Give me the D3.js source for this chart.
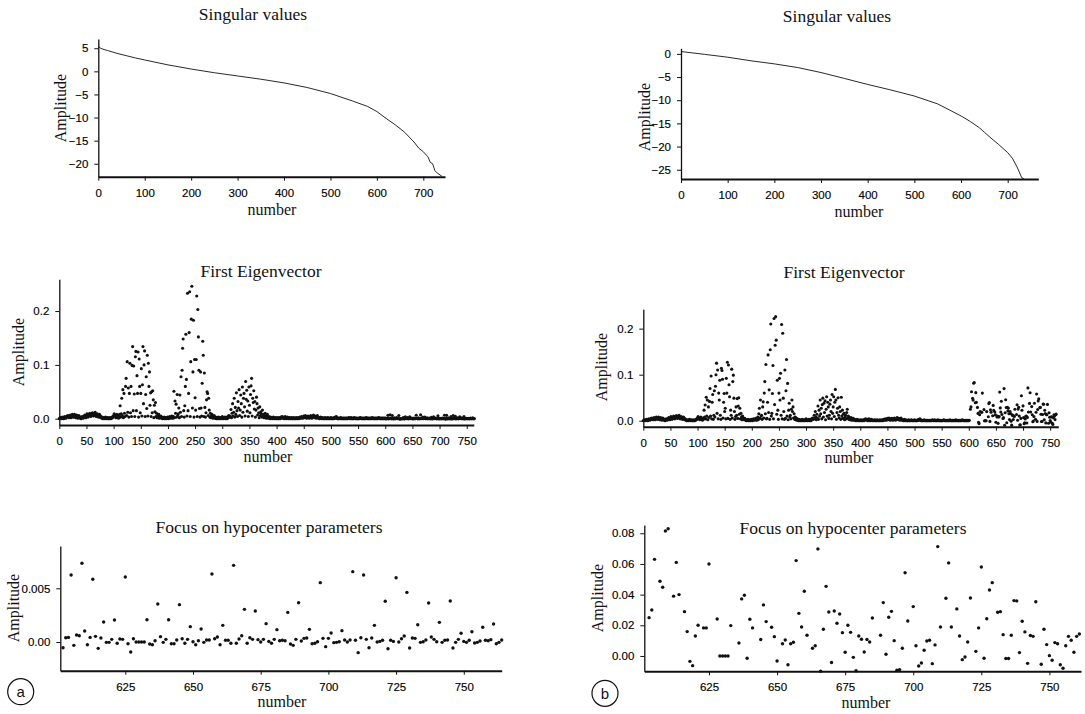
<!DOCTYPE html>
<html>
<head>
<meta charset="utf-8">
<script src="https://cdn.jsdelivr.net/npm/d3@7"></script>
<style>
  body { margin: 0; background: #fff; }
  .tick text { font-family: "Liberation Sans", Arial, sans-serif; font-size: 11.5px; fill: #000; stroke: #000; stroke-width: 0.15px; }
  .ttl, .lbl { font-family: "Liberation Serif", "Times New Roman", serif; fill: #111; }
</style>
</head>
<body>
<svg id="chart" width="1085" height="714"></svg>
<script>
// ---- singular values ----
const singA_n = [0, 5, 10, 20, 40, 60, 80, 100, 150, 200, 250, 300, 350, 400, 450, 500, 550, 580, 600, 620, 640, 660, 680, 690, 700, 710, 715, 720, 725, 730, 740];
const singA_v = [5.4, 5.0, 4.8, 4.5, 3.9, 3.4, 2.9, 2.46, 1.4, 0.5, -0.3, -1.0, -1.7, -2.5, -3.5, -4.8, -6.5, -7.6, -8.7, -10.2, -11.6, -13.2, -15.3, -16.6, -17.4, -18.5, -19.7, -20.0, -21.5, -22.0, -22.7];
const singB_n = [0, 50, 100, 150, 200, 250, 300, 350, 400, 450, 500, 550, 600, 620, 640, 650, 660, 680, 700, 710, 720, 725, 730, 735];
const singB_v = [0.5, -0.1, -0.72, -1.5, -2.16, -2.95, -4.03, -5.3, -6.6, -7.8, -9.1, -10.8, -13.4, -14.6, -16.0, -16.9, -17.8, -19.5, -21.3, -22.5, -24.4, -25.5, -26.7, -27.0];

// ---- first eigenvector, shared low background parts ----
// 0-109
const base0 = [
  0.000, 0.001, 0.002, 0.001, 0.000, 0.002, 0.003, 0.001, 0.000, 0.002, 0.004, 0.002, 0.001, 0.003, 0.005, 0.003, 0.006, 0.004, 0.002, 0.005,
  0.007, 0.004, 0.002, 0.006, 0.008, 0.005, 0.003, 0.006, 0.008, 0.004, 0.002, 0.005, 0.007, 0.004, 0.001, 0.003, 0.006, 0.004, 0.002, 0.001,
  0.000, 0.002, 0.004, 0.003, 0.001, 0.003, 0.005, 0.007, 0.004, 0.002, 0.006, 0.009, 0.006, 0.003, 0.005, 0.008, 0.010, 0.007, 0.004, 0.006,
  0.009, 0.011, 0.008, 0.005, 0.007, 0.010, 0.012, 0.008, 0.004, 0.006, 0.009, 0.007, 0.003, 0.005, 0.008, 0.006, 0.002, 0.004, 0.003, 0.001,
  0.000, 0.002, 0.001, 0.000, 0.001, 0.003, 0.002, 0.000, 0.001, 0.002, 0.000, 0.001, 0.000, 0.002, 0.001, 0.000, 0.001, 0.003, 0.002, 0.004,
  0.006, 0.009, 0.007, 0.004, 0.002, 0.005, 0.008, 0.006, 0.003, 0.001
];
// 186-209
const gap1 = [0.002, 0.005, 0.003, 0.001, 0.000, 0.002, 0.001, 0.003, 0.000, 0.001, 0.002, 0.000, 0.001, 0.003, 0.001, 0.000, 0.002, 0.004, 0.002, 0.001, 0.003, 0.005, 0.002, 0.001];
// 290-314
const gap2 = [0.002, 0.001, 0.000, 0.003, 0.001, 0.000, 0.002, 0.001, 0.000, 0.002, 0.004, 0.001, 0.000, 0.002, 0.001, 0.003, 0.000, 0.001, 0.002, 0.000, 0.004, 0.002, 0.006, 0.003, 0.005];
// 390-601
const tail = [
  0.001, 0.002, 0.000, 0.001, 0.003, 0.001, 0.000, 0.002, 0.001, 0.000, 0.001, 0.002, 0.000, 0.001, 0.000, 0.002, 0.001, 0.000, 0.003, 0.002,
  0.004, 0.002, 0.001, 0.003, 0.000, 0.001, 0.004, 0.002, 0.000, 0.001, 0.003, 0.001, 0.000, 0.002, 0.001, 0.000, 0.001, 0.002, 0.000, 0.001,
  0.000, 0.002, 0.001, 0.000, 0.001, 0.000, 0.002, 0.001, 0.000, 0.001, 0.002, 0.000, 0.001, 0.003, 0.001, 0.002, 0.004, 0.002, 0.001, 0.003,
  0.005, 0.002, 0.004, 0.006, 0.003, 0.001, 0.004, 0.002, 0.005, 0.003, 0.001, 0.002, 0.004, 0.006, 0.003, 0.001, 0.003, 0.005, 0.007, 0.004,
  0.002, 0.005, 0.003, 0.001, 0.004, 0.006, 0.003, 0.001, 0.002, 0.000, 0.001, 0.003, 0.001, 0.000, 0.002, 0.001, 0.000, 0.001, 0.000, 0.002,
  0.001, 0.000, 0.001, 0.000, 0.002, 0.001, 0.000, 0.001, 0.000, 0.001, 0.002, 0.000, 0.001, 0.000, 0.001, 0.000, 0.002, 0.001, 0.003, 0.001,
  0.004, 0.002, 0.000, 0.001, 0.000, 0.001, 0.000, 0.001, 0.002, 0.000, 0.001, 0.000, 0.001, 0.000, 0.001, 0.000, 0.001, 0.000, 0.001, 0.000,
  0.001, 0.000, 0.001, 0.002, 0.001, 0.000, 0.001, 0.002, 0.000, 0.001, 0.000, 0.001, 0.000, 0.002, 0.001, 0.000, 0.001, 0.000, 0.001, 0.000,
  0.000, 0.001, 0.000, 0.001, 0.002, 0.001, 0.000, 0.001, 0.000, 0.001, 0.000, 0.001, 0.000, 0.001, 0.000, 0.002, 0.001, 0.000, 0.001, 0.000,
  0.001, 0.000, 0.001, 0.000, 0.001, 0.000, 0.002, 0.001, 0.000, 0.001, 0.000, 0.001, 0.000, 0.001, 0.000, 0.001, 0.000, 0.001, 0.002, 0.001,
  0.000, 0.001, 0.000, 0.001, 0.000, 0.001, 0.000, 0.001, 0.000, 0.001, 0.000, 0.001
];

// ---- first eigenvector, peaks (a) ----
// 110-185
const peak1A = [
  0.004, 0.008, 0.024, 0.003, 0.009, 0.038, 0.006, 0.054, 0.002, 0.047,
  0.010, 0.004, 0.060, 0.075, 0.006, 0.106, 0.012, 0.057, 0.003, 0.047,
  0.103, 0.011, 0.060, 0.004, 0.099, 0.134, 0.015, 0.098, 0.046, 0.004,
  0.115, 0.125, 0.015, 0.080, 0.047, 0.124, 0.003, 0.111, 0.060, 0.011,
  0.047, 0.093, 0.005, 0.063, 0.134, 0.028, 0.100, 0.126, 0.004, 0.045,
  0.078, 0.019, 0.118, 0.005, 0.103, 0.060, 0.087, 0.025, 0.048, 0.004,
  0.050, 0.011, 0.052, 0.035, 0.002, 0.025, 0.013, 0.030, 0.004, 0.010,
  0.002, 0.006, 0.003, 0.008, 0.001, 0.004
];
// 210-289
const peak2A = [
  0.004, 0.051, 0.002, 0.033, 0.010, 0.027, 0.003, 0.045, 0.006, 0.009,
  0.020, 0.002, 0.044, 0.012, 0.078, 0.004, 0.090, 0.131, 0.148, 0.015,
  0.003, 0.024, 0.060, 0.157, 0.073, 0.005, 0.233, 0.015, 0.047, 0.160,
  0.236, 0.004, 0.106, 0.185, 0.246, 0.020, 0.087, 0.183, 0.003, 0.110,
  0.039, 0.016, 0.110, 0.228, 0.004, 0.203, 0.152, 0.090, 0.019, 0.003,
  0.087, 0.020, 0.005, 0.066, 0.144, 0.118, 0.004, 0.085, 0.021, 0.003,
  0.011, 0.035, 0.050, 0.047, 0.006, 0.038, 0.016, 0.003, 0.010, 0.002,
  0.005, 0.008, 0.003, 0.001, 0.004, 0.006, 0.002, 0.001, 0.003, 0.000
];
// 315-389
const peak3A = [
  0.004, 0.017, 0.002, 0.010, 0.028, 0.005, 0.012, 0.038, 0.003, 0.021,
  0.008, 0.048, 0.015, 0.004, 0.032, 0.020, 0.054, 0.006, 0.016, 0.044,
  0.028, 0.003, 0.059, 0.012, 0.038, 0.047, 0.022, 0.005, 0.069, 0.036,
  0.053, 0.014, 0.033, 0.004, 0.059, 0.025, 0.011, 0.045, 0.061, 0.075,
  0.005, 0.038, 0.030, 0.052, 0.018, 0.032, 0.003, 0.016, 0.040, 0.028,
  0.007, 0.020, 0.011, 0.002, 0.022, 0.006, 0.013, 0.009, 0.003, 0.016,
  0.005, 0.008, 0.002, 0.006, 0.010, 0.004, 0.001, 0.005, 0.008, 0.003,
  0.001, 0.004, 0.002, 0.000, 0.003
];

// ---- first eigenvector, peaks (b) ----
const peak1B = [
  0.006, 0.003, 0.023, 0.008, 0.034, 0.004, 0.051, 0.010, 0.045, 0.002,
  0.030, 0.007, 0.042, 0.070, 0.010, 0.097, 0.004, 0.040, 0.057, 0.003,
  0.012, 0.065, 0.008, 0.075, 0.100, 0.125, 0.016, 0.110, 0.004, 0.060,
  0.045, 0.088, 0.012, 0.003, 0.114, 0.109, 0.090, 0.006, 0.040, 0.059,
  0.020, 0.027, 0.004, 0.092, 0.060, 0.127, 0.005, 0.121, 0.078, 0.052,
  0.003, 0.023, 0.012, 0.112, 0.006, 0.085, 0.099, 0.049, 0.020, 0.003,
  0.009, 0.030, 0.012, 0.048, 0.005, 0.032, 0.050, 0.014, 0.027, 0.004,
  0.016, 0.008, 0.002, 0.010, 0.003, 0.006
];
const peak2B = [
  0.004, 0.008, 0.002, 0.015, 0.027, 0.005, 0.045, 0.010, 0.012, 0.003,
  0.030, 0.041, 0.006, 0.060, 0.085, 0.015, 0.122, 0.004, 0.005, 0.040,
  0.143, 0.018, 0.067, 0.003, 0.154, 0.210, 0.010, 0.016, 0.059, 0.120,
  0.004, 0.222, 0.035, 0.164, 0.226, 0.175, 0.014, 0.088, 0.023, 0.003,
  0.060, 0.092, 0.045, 0.103, 0.012, 0.209, 0.004, 0.190, 0.049, 0.020,
  0.003, 0.110, 0.005, 0.065, 0.133, 0.010, 0.081, 0.002, 0.023, 0.038,
  0.008, 0.012, 0.004, 0.025, 0.045, 0.020, 0.030, 0.006, 0.015, 0.003,
  0.008, 0.002, 0.006, 0.001, 0.004, 0.002, 0.000, 0.003, 0.001, 0.000
];
const peak3B = [
  0.012, 0.004, 0.020, 0.008, 0.002, 0.014, 0.006, 0.032, 0.003, 0.023,
  0.010, 0.045, 0.015, 0.027, 0.004, 0.035, 0.049, 0.008, 0.038, 0.018,
  0.043, 0.002, 0.025, 0.052, 0.010, 0.040, 0.030, 0.005, 0.012, 0.036,
  0.045, 0.020, 0.004, 0.057, 0.016, 0.030, 0.052, 0.009, 0.040, 0.068,
  0.045, 0.003, 0.018, 0.027, 0.050, 0.012, 0.006, 0.030, 0.020, 0.003,
  0.051, 0.010, 0.023, 0.005, 0.014, 0.016, 0.002, 0.008, 0.012, 0.004,
  0.018, 0.025, 0.006, 0.010, 0.003, 0.007, 0.002, 0.005, 0.007, 0.001,
  0.004, 0.002, 0.005, 0.001, 0.003
];

// ---- hypocenter parameters (a): numbers 602-764 ----
const focusA = [
  -0.00053, 0.00040, 0.00043, 0.00624, -0.00031, 0.00065, 0.00059, 0.00733, 0.00102, -0.00025,
  0.00043, 0.00584, 0.00053, -0.00059, 0.00037, 0.00186, -0.00003, -0.00003, 0.00025, 0.00205,
  -0.00012, 0.00028, 0.00025, 0.00605, -0.00016, -0.00093, 0.00031, 0.00000, 0.00000, 0.00000,
  0.00000, 0.00208, -0.00019, -0.00025, 0.00012, 0.00354, 0.00050, -0.00003, 0.00025, 0.00208,
  -0.00016, -0.00016, 0.00019, 0.00348, 0.00031, -0.00012, 0.00025, 0.00143, 0.00003, -0.00025,
  0.00012, 0.00121, -0.00003, 0.00019, 0.00019, 0.00633, 0.00031, 0.00047, -0.00025, 0.00155,
  0.00016, 0.00016, -0.00012, 0.00714, -0.00012, 0.00028, 0.00059, 0.00304, -0.00012, 0.00040,
  0.00025, 0.00289, 0.00022, 0.00000, 0.00025, 0.00171, 0.00006, -0.00012, 0.00025, 0.00115,
  0.00012, 0.00016, 0.00012, 0.00276, -0.00019, -0.00031, 0.00025, 0.00366, 0.00009, 0.00034,
  0.00037, 0.00118, -0.00016, -0.00012, 0.00003, 0.00553, 0.00034, -0.00043, 0.00034, 0.00084,
  -0.00006, -0.00003, 0.00003, 0.00106, 0.00019, 0.00000, 0.00019, 0.00655, 0.00016, -0.00099,
  0.00040, 0.00624, 0.00025, -0.00053, 0.00037, 0.00155, 0.00000, 0.00006, 0.00016, 0.00379,
  -0.00062, 0.00016, 0.00006, 0.00599, 0.00000, 0.00031, 0.00056, 0.00462, -0.00056, 0.00037,
  0.00034, 0.00161, -0.00003, 0.00003, 0.00019, 0.00363, 0.00047, 0.00025, 0.00003, 0.00183,
  -0.00003, 0.00016, 0.00019, 0.00382, -0.00056, -0.00003, 0.00025, 0.00081, 0.00006, -0.00003,
  0.00016, 0.00096, -0.00009, -0.00003, 0.00009, 0.00137, 0.00016, 0.00012, 0.00022, 0.00168,
  -0.00016, -0.00003, 0.00019
];
const focusAStart = 602;

// ---- hypocenter parameters (b) ----
const focusBIdx = [603, 604, 605, 607, 608, 609, 610, 612, 613, 614, 616, 617, 618, 619, 620, 621, 623, 624, 625, 628, 629, 630, 631, 632, 633,
  636, 637, 638, 639, 640, 641, 644, 645, 646, 648, 649, 650, 652, 653, 654, 655, 656, 657, 658, 659, 660, 661, 663, 664, 665, 666, 667, 668, 669,
  670, 671, 672, 673, 674, 675, 676, 677, 678, 679, 680, 681, 682, 683, 684, 685, 688, 689, 690, 691, 692, 693, 694, 695, 696, 697, 698, 700, 701,
  702, 703, 704, 705, 706, 707, 708, 709, 710, 712, 713, 714, 716, 717, 718, 719, 720, 721, 723, 724, 725, 726, 727, 728, 729, 731, 732, 733, 734,
  735, 736, 737, 738, 739, 740, 741, 742, 743, 744, 745, 747, 748, 749, 750, 751, 752, 753, 754, 755, 756, 757, 758, 759, 760, 761];
const focusBVal = [0.025, 0.030, 0.063, 0.0487, 0.0448, 0.0815, 0.083, 0.039, 0.061, 0.040, 0.0289, 0.0159, -0.0035, -0.0063, 0.0130, 0.020, 0.0183, 0.0183, 0.060, 0.0241, 0, 0, 0, 0, 0.0198,
  0.0085, 0.0372, 0.0396, -0.0015, 0.0239, 0.0183, 0.0107, 0.0333, 0.0224, 0.0187, 0.0126, -0.0033, 0.0080, 0.0104, -0.0057, 0.0080, 0.0089, 0.0622, 0.0278, 0.0189, 0.0422, 0.0135, 0.0050, 0.0067, 0.0698, -0.0100, 0.0174, 0.0454, 0.0287,
  -0.0043, 0.0293, 0.0213, 0.0274, 0.0152, 0.0024, 0.0200, 0.0154, -0.0009, -0.0096, 0.0130, 0.0109, 0.0026, 0.0107, 0.0091, 0.0248, 0.0135, 0.0348, 0.0011, 0.0252, 0.0291, 0.0100, -0.0093, -0.0089, 0.0050, 0.0543, 0.0228, 0.0322, 0.0067,
  -0.0065, -0.0046, 0.0037, 0.0098, 0.0102, -0.0050, 0.0072, 0.0713, 0.0189, 0.0376, 0.0607, 0.0189, 0.0307, 0.0130, -0.0024, -0.0007, 0.0091, 0.0378, 0.0030, 0.0183, 0.0580, -0.0015, 0.0243, 0.0430, 0.0478, 0.0285, 0.0289, 0.0139, -0.0017,
  -0.0017, 0.0135, 0.0361, 0.0359, 0.0022, 0.0226, 0.0157, -0.0048, 0.0133, 0.0128, 0.0354, -0.0054, 0.0174, 0.0074, 0.0002, -0.0028, 0.0087, 0.0080, -0.0057, -0.0080, 0.0067, 0.0128, 0.0102, 0.0024, 0.0128, 0.0143];

// ---- tick values ----
const singTicksX = [0, 100, 200, 300, 400, 500, 600, 700];
const singTicksYA = [5, 0, -5, -10, -15, -20];
const singTicksYB = [0, -5, -10, -15, -20, -25];
const eigTicksX = [0, 50, 100, 150, 200, 250, 300, 350, 400, 450, 500, 550, 600, 650, 700, 750];
const eigTicksY = [0, 0.1, 0.2];
const focusTicksX = [625, 650, 675, 700, 725, 750];
const focusTicksYA = [0, 0.005];
const focusTicksYALabels = ["0.00", "0.005"];
const focusTicksYB = [0, 0.02, 0.04, 0.06, 0.08];

// build point series
const eigA = [].concat(base0, peak1A, gap1, peak2A, gap2, peak3A, tail)
  .map((v, i) => ({ n: i, v: v }))
  .concat(focusA.map((v, i) => ({ n: focusAStart + i, v: v })));
const eigB = [].concat(base0, peak1B, gap1, peak2B, gap2, peak3B, tail)
  .map((v, i) => ({ n: i, v: v }))
  .concat(focusBIdx.map((n, i) => ({ n: n, v: focusBVal[i] })));
const ptsFocusA = focusA.map((v, i) => ({ n: focusAStart + i, v: v }));
const ptsFocusB = focusBIdx.map((n, i) => ({ n: n, v: focusBVal[i] }));

const svg = d3.select('#chart');
const ink = '#111';

function panel(c) {
  const x = d3.scaleLinear().domain(c.xDom).range([c.left, c.right]);
  const y = d3.scaleLinear().domain(c.yDom).range([c.bottom, c.top]);
  const g = svg.append('g');

  // x axis (heavy line, ticks down)
  const xa = g.append('g')
    .attr('transform', 'translate(0,' + c.bottom + ')')
    .call(d3.axisBottom(x).tickValues(c.xTicks).tickSize(4).tickSizeOuter(0).tickPadding(8).tickFormat(d3.format('d')));
  xa.select('.domain').attr('stroke', ink).attr('stroke-width', 2);
  xa.selectAll('.tick line').attr('stroke', ink).attr('stroke-width', 1);

  // y axis (thin line, ticks left)
  const ya = g.append('g')
    .attr('transform', 'translate(' + c.left + ',0)')
    .call(d3.axisLeft(y).tickValues(c.yTicks).tickSize(4).tickSizeOuter(0).tickPadding(6)
      .tickFormat(c.yLabels ? (d, i) => c.yLabels[i] : d3.format(c.yFmt)));
  ya.select('.domain').attr('stroke', ink).attr('stroke-width', 1.3);
  ya.selectAll('.tick line').attr('stroke', ink).attr('stroke-width', 1);

  g.append('text').attr('class', 'ttl')
    .attr('x', c.title[1]).attr('y', c.title[2])
    .attr('text-anchor', 'middle').attr('font-size', 17.5)
    .text(c.title[0]);

  g.append('text').attr('class', 'lbl')
    .attr('transform', 'translate(' + c.amp[0] + ',' + c.amp[1] + ') rotate(-90)')
    .attr('text-anchor', 'middle').attr('dominant-baseline', 'central')
    .attr('font-size', 16)
    .text('Amplitude');

  g.append('text').attr('class', 'lbl')
    .attr('x', c.num[0]).attr('y', c.num[1])
    .attr('text-anchor', 'middle').attr('font-size', 16)
    .text('number');

  return { x, y, g };
}

function drawLine(p, ns, vs) {
  const line = d3.line().x(d => p.x(d[0])).y(d => p.y(d[1]));
  p.g.append('path')
    .datum(ns.map((n, i) => [n, vs[i]]))
    .attr('d', line)
    .attr('fill', 'none')
    .attr('stroke', ink)
    .attr('stroke-width', 0.9);
}

function drawDots(p, pts, r) {
  p.g.append('g').selectAll('circle')
    .data(pts)
    .enter()
    .append('circle')
    .attr('cx', d => p.x(d.n))
    .attr('cy', d => p.y(d.v))
    .attr('r', r)
    .attr('fill', ink);
}

// --- top row: singular values ---
const pSA = panel({
  xDom: [0, 746.7], yDom: [-22.8, 7.0], left: 98.3, right: 445, top: 39, bottom: 176.7,
  xTicks: singTicksX, yTicks: singTicksYA, yFmt: 'd',
  title: ['Singular values', 253, 20], amp: [60, 108], num: [272, 215]
});
drawLine(pSA, singA_n, singA_v);

const pSB = panel({
  xDom: [0, 765.6], yDom: [-27.0, 1.2], left: 681, right: 1038.3, top: 48.3, bottom: 179,
  xTicks: singTicksX, yTicks: singTicksYB, yFmt: 'd',
  title: ['Singular values', 837, 21.7], amp: [644, 117], num: [859, 216.7]
});
drawLine(pSB, singB_n, singB_v);

// --- middle row: first eigenvector ---
const pEA = panel({
  xDom: [0, 763], yDom: [-0.0117, 0.259], left: 59.3, right: 473.8, top: 279.3, bottom: 425,
  xTicks: eigTicksX, yTicks: eigTicksY, yFmt: '.1f',
  title: ['First Eigenvector', 261, 276.7], amp: [18, 352], num: [268, 461.7]
});
drawDots(pEA, eigA, 1.55);

const pEB = panel({
  xDom: [0, 765], yDom: [-0.013, 0.242], left: 643.3, right: 1058.3, top: 309.3, bottom: 426.7,
  xTicks: eigTicksX, yTicks: eigTicksY, yFmt: '.1f',
  title: ['First Eigenvector', 844, 278.3], amp: [601, 367], num: [849, 463.3]
});
drawDots(pEB, eigB, 1.55);

// --- bottom row: focus on hypocenter parameters ---
const pFA = panel({
  xDom: [601, 764], yDom: [-0.00267, 0.00894], left: 60.3, right: 501.7, top: 546, bottom: 670.7,
  xTicks: focusTicksX, yTicks: focusTicksYA, yLabels: focusTicksYALabels,
  title: ['Focus on hypocenter parameters', 269, 532.7], amp: [13, 608], num: [282, 707.3]
});
drawDots(pFA, ptsFocusA, 1.7);

const pFB = panel({
  xDom: [601.25, 761.6], yDom: [-0.01, 0.0854], left: 644.3, right: 1081, top: 525, bottom: 671.3,
  xTicks: focusTicksX, yTicks: focusTicksYB, yFmt: '.2f',
  title: ['Focus on hypocenter parameters', 853, 534], amp: [597, 598], num: [866, 708.3]
});
drawDots(pFB, ptsFocusB, 1.7);

// circled panel letters
[['a', 20.7, 691.7], ['b', 605, 693.3]].forEach(d => {
  svg.append('circle').attr('cx', d[1]).attr('cy', d[2]).attr('r', 13)
    .attr('fill', 'none').attr('stroke', ink).attr('stroke-width', 1.2);
  svg.append('text').attr('x', d[1]).attr('y', d[2])
    .attr('text-anchor', 'middle').attr('dominant-baseline', 'central')
    .attr('font-family', '"Liberation Sans", Arial, sans-serif').attr('font-size', 15)
    .attr('fill', ink).text(d[0]);
});
</script>
</body>
</html>
